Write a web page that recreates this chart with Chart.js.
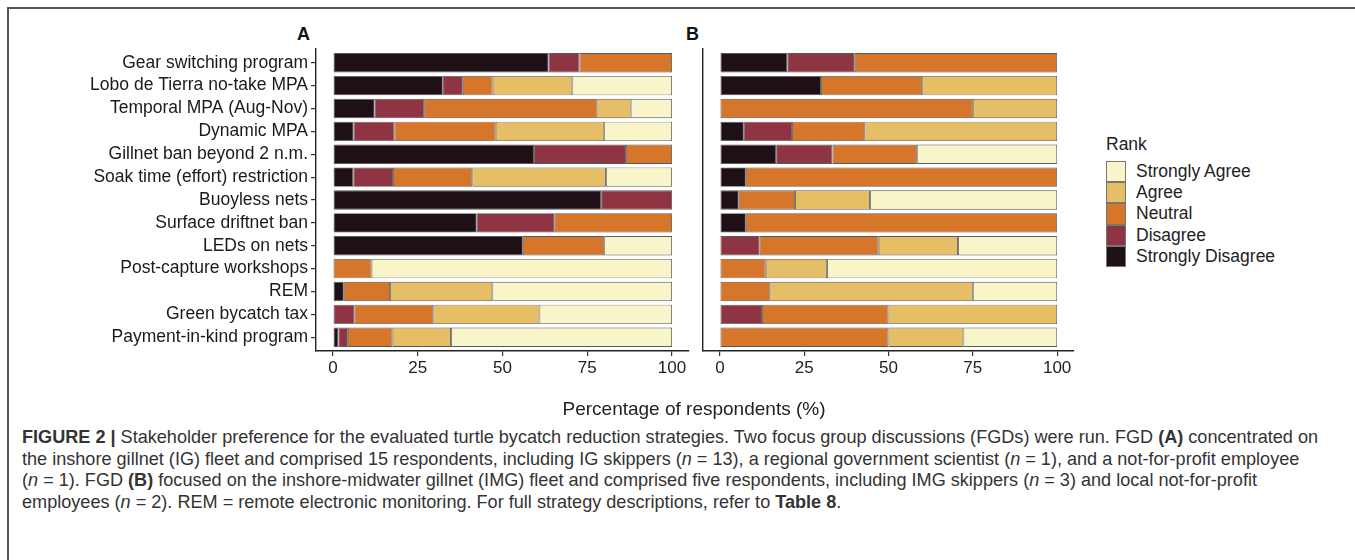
<!DOCTYPE html>
<html>
<head>
<meta charset="utf-8">
<script src="https://cdn.jsdelivr.net/npm/chart.js@4"></script>
<style>
    body { margin: 0; background: #fff; width: 1355px; height: 560px; overflow: hidden; position: relative; font-family: 'Liberation Sans', Arial, sans-serif; }
    .frame { position: absolute; left: 7px; top: 7px; width: 1360px; height: 570px; border-top: 2px solid #555; border-left: 2px solid #555; }
    canvas { position: absolute; }
    .panel-tag { position: absolute; font-weight: bold; font-size: 18px; color: #111; }
    .axis-title { position: absolute; left: 494px; width: 400px; top: 398px; text-align: center; font-size: 19px; color: #222; }
    .legend { position: absolute; left: 1106px; top: 134px; color: #222; font-size: 17.5px; }
    .legend .title { margin-bottom: 6px; }
    .legend .item { display: flex; align-items: center; height: 21.2px; }
    .legend .key { width: 18px; height: 19.2px; border: 1px solid #777; margin-right: 10px; }
    .caption { position: absolute; left: 22px; top: 427px; font-size: 18.1px; line-height: 21.5px; color: #333; white-space: nowrap; }
</style>
</head>
<body>
<div class="frame"></div>
<div class="panel-tag" style="left:297px; top:24px;">A</div>
<div class="panel-tag" style="left:686px; top:24px;">B</div>
<canvas id="chartA" width="700" height="380" style="left:0; top:40px;"></canvas>
<canvas id="chartB" width="395" height="380" style="left:690px; top:40px;"></canvas>
<div class="axis-title">Percentage of respondents (%)</div>
<div class="legend" id="legend"><div class="title">Rank</div></div>
<div class="caption">
<b>FIGURE 2 |</b> Stakeholder preference for the evaluated turtle bycatch reduction strategies. Two focus group discussions (FGDs) were run. FGD <b>(A)</b> concentrated on<br>
the inshore gillnet (IG) fleet and comprised 15 respondents, including IG skippers (<i>n</i> = 13), a regional government scientist (<i>n</i> = 1), and a not-for-profit employee<br>
(<i>n</i> = 1). FGD <b>(B)</b> focused on the inshore-midwater gillnet (IMG) fleet and comprised five respondents, including IMG skippers (<i>n</i> = 3) and local not-for-profit<br>
employees (<i>n</i> = 2). REM = remote electronic monitoring. For full strategy descriptions, refer to <b>Table 8</b>.
</div>
<script>
// ---- data ----
const strategies = [
    'Gear switching program', 'Lobo de Tierra no-take MPA', 'Temporal MPA (Aug-Nov)',
    'Dynamic MPA', 'Gillnet ban beyond 2 n.m.', 'Soak time (effort) restriction',
    'Buoyless nets', 'Surface driftnet ban', 'LEDs on nets', 'Post-capture workshops',
    'REM', 'Green bycatch tax', 'Payment-in-kind program'
];
const ranks = ['Strongly Disagree', 'Disagree', 'Neutral', 'Agree', 'Strongly Agree'];
const rankColors = ['#1f0f17', '#8e3442', '#d6762a', '#e6be66', '#f9f5ca'];
const xTicks = [0, 25, 50, 75, 100];

// panel A (percent of respondents)
const aStronglyDisagree = [63.6, 32.4, 12.3, 6.1, 59.3, 6.0, 79.1, 42.4, 56.0, 0, 3.2, 0, 1.6];
const aDisagree         = [9.1, 5.9, 14.6, 12.0, 27.1, 11.7, 20.9, 23.0, 0, 0, 0, 6.4, 2.8];
const aNeutral          = [27.3, 8.8, 51.1, 29.9, 13.6, 23.4, 0, 34.6, 24.0, 11.4, 13.6, 23.2, 13.2];
const aAgree            = [0, 23.5, 9.8, 32.0, 0, 39.4, 0, 0, 0, 0, 30.2, 31.3, 17.2];
const aStronglyAgree    = [0, 29.4, 12.2, 20.0, 0, 19.5, 0, 0, 20.0, 88.6, 53.0, 39.1, 65.2];

// panel B
const bStronglyDisagree = [20, 30, 0, 7.1, 16.7, 7.7, 5.6, 7.7, 0, 0, 0, 0, 0];
const bDisagree         = [20, 0, 0, 14.3, 16.7, 0, 0, 0, 11.8, 0, 0, 12.5, 0];
const bNeutral          = [60, 30, 75, 21.4, 25, 92.3, 16.7, 92.3, 35.3, 13.6, 15, 37.5, 50];
const bAgree            = [0, 40, 25, 57.2, 0, 0, 22.2, 0, 23.5, 18.2, 60, 50, 22.2];
const bStronglyAgree    = [0, 0, 0, 0, 41.6, 0, 55.5, 0, 29.4, 68.2, 25, 0, 27.8];

// ---- legend (top to bottom: agree first) ----
const legendEl = document.getElementById('legend');
for (let i = ranks.length - 1; i >= 0; i--) {
    const item = document.createElement('div');
    item.className = 'item';
    item.innerHTML = '<span class="key" style="background:' + rankColors[i] + '"></span>' + ranks[i];
    legendEl.appendChild(item);
}

// ---- charts ----
Chart.defaults.font.family = "'Liberation Sans', Arial, sans-serif";

function makePanel(canvasId, series, labelWidth, showLabels) {
    const datasets = series.map((vals, k) => ({
        label: ranks[k],
        data: vals.map((v, i) => ({ x: v || null, y: i })),
        backgroundColor: rankColors[k],
        borderColor: '#5a5a5a',
        borderWidth: 0.9,
        borderSkipped: false,
        categoryPercentage: 1,
        barPercentage: 0.85
    }));

    new Chart(document.getElementById(canvasId), {
        type: 'bar',
        data: { datasets },
        options: {
            indexAxis: 'y',
            responsive: false,
            animation: false,
            layout: { padding: { top: 9, right: 11, bottom: 0, left: 0 } },
            plugins: { legend: { display: false }, tooltip: { enabled: false } },
            scales: {
                x: {
                    type: 'linear',
                    stacked: true,
                    min: -5,
                    max: 105,
                    afterBuildTicks: s => { s.ticks = xTicks.map(v => ({ value: v })); },
                    afterFit: s => { s.height = 69; s.paddingLeft = 0; s.paddingRight = 0; },
                    grid: { drawOnChartArea: false, drawTicks: true, tickLength: 5, color: '#333', lineWidth: 1.2 },
                    border: { display: true, color: '#222', width: 1.4 },
                    ticks: { color: '#222', font: { size: 17 }, padding: 2, maxRotation: 0 }
                },
                y: {
                    type: 'linear',
                    stacked: true,
                    reverse: true,
                    offset: false,
                    min: -0.6,
                    max: 12.6,
                    afterBuildTicks: s => { s.ticks = strategies.map((_, i) => ({ value: i })); },
                    afterFit: s => { s.width = labelWidth; s.paddingTop = 0; s.paddingBottom = 0; },
                    grid: { offset: false, drawOnChartArea: false, drawTicks: showLabels, tickLength: 5, color: '#333', lineWidth: 1.2 },
                    border: { display: true, color: '#222', width: 1.4 },
                    ticks: {
                        display: showLabels,
                        color: '#1a1a1a',
                        font: { size: 17.5 },
                        padding: 3,
                        autoSkip: false,
                        callback: v => strategies[v]
                    }
                }
            }
        }
    });
}

makePanel('chartA', [aStronglyDisagree, aDisagree, aNeutral, aAgree, aStronglyAgree], 316, true);
makePanel('chartB', [bStronglyDisagree, bDisagree, bNeutral, bAgree, bStronglyAgree], 13, false);
</script>
</body>
</html>
